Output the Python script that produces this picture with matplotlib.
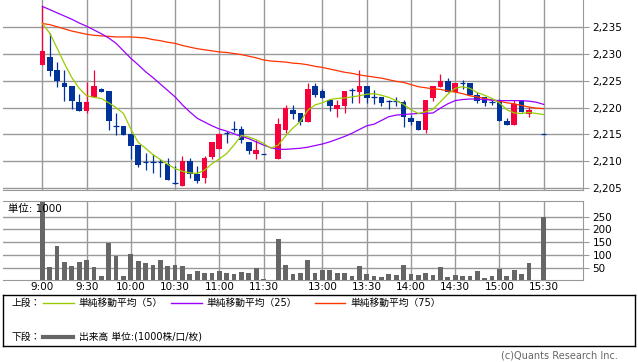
import numpy as np
import matplotlib
matplotlib.use("Agg")
from matplotlib import pyplot as plt

plt.rcParams['font.family'] = ['DejaVu Sans', 'Noto Sans CJK JP']

# 5-minute candles, 9:00 .. 15:30 (None = no trade in that slot)
opens = [2227.9, 2229.5, 2227.1, 2224.6, 2224.1, 2221.1, 2219.4, 2221.9, 2223.5, 2223.1,
         2216.5, 2216.6, 2215.0, 2213.0, 2209.9, 2209.9, 2209.9, 2209.4, 2206.0, 2205.4,
         2210.0, 2207.6, 2206.9, 2210.8, 2212.3, 2215.3, 2216.0, 2216.0, 2213.6, 2211.3,
         2211.4, None, 2210.4, 2215.8, 2219.6, 2218.9, 2217.3, 2224.1, 2223.1, 2221.4,
         2219.8, 2220.3, 2223.2, 2222.9, 2224.1, 2221.9, 2221.9, 2221.3, 2221.3, 2221.1,
         2218.1, 2217.4, 2215.8, 2221.8, 2223.9, 2224.9, 2222.9, 2224.5, 2224.6, 2222.4,
         2221.9, 2221.1, 2221.4, 2217.4, 2216.8, 2221.2, 2218.8, None, 2215.0]
highs = [2238.9, 2233.9, 2228.6, 2227.1, 2224.1, 2222.6, 2224.7, 2227.1, 2223.6, 2223.1,
         2218.9, 2216.6, 2215.0, 2213.0, 2211.6, 2211.3, 2210.4, 2210.6, 2209.0, 2211.0,
         2210.6, 2209.1, 2211.0, 2213.6, 2215.3, 2215.6, 2217.4, 2216.6, 2213.6, 2213.9,
         2211.4, None, 2218.0, 2220.5, 2220.5, 2218.9, 2224.6, 2224.6, 2223.5, 2221.4,
         2221.4, 2223.1, 2223.6, 2227.1, 2224.1, 2223.2, 2221.9, 2221.4, 2221.9, 2221.4,
         2218.6, 2217.4, 2221.4, 2224.1, 2226.2, 2225.5, 2224.6, 2225.1, 2224.6, 2222.9,
         2221.9, 2221.4, 2221.6, 2218.0, 2221.4, 2221.2, 2220.2, None, 2215.0]
lows = [2227.9, 2225.9, 2223.9, 2221.3, 2219.8, 2219.4, 2218.9, 2221.9, 2223.0, 2215.9,
        2214.9, 2214.9, 2210.4, 2208.9, 2208.4, 2207.8, 2207.0, 2206.4, 2205.7, 2205.4,
        2206.9, 2205.9, 2205.9, 2210.4, 2212.3, 2213.4, 2215.4, 2213.4, 2211.3, 2210.4,
        2211.4, None, 2210.4, 2215.3, 2217.8, 2216.8, 2217.3, 2221.9, 2221.8, 2219.4,
        2218.3, 2218.9, 2220.9, 2220.9, 2220.9, 2220.6, 2220.3, 2219.8, 2220.3, 2216.4,
        2216.8, 2215.8, 2215.3, 2221.3, 2223.9, 2222.9, 2222.9, 2223.5, 2222.4, 2220.9,
        2220.3, 2220.5, 2217.4, 2216.8, 2216.8, 2219.1, 2218.3, None, 2215.0]
closes = [2230.6, 2226.9, 2224.9, 2223.9, 2221.3, 2219.4, 2221.1, 2224.1, 2223.0, 2217.4,
          2216.5, 2214.9, 2212.9, 2209.3, 2209.9, 2209.9, 2209.9, 2206.4, 2206.0, 2210.0,
          2207.5, 2206.3, 2210.6, 2213.6, 2215.0, 2215.3, 2216.0, 2213.9, 2211.9, 2212.1,
          2211.4, None, 2216.9, 2220.0, 2218.8, 2217.3, 2223.5, 2222.4, 2221.8, 2220.3,
          2220.4, 2223.1, 2223.2, 2224.1, 2221.8, 2221.9, 2220.9, 2221.3, 2221.3, 2218.3,
          2217.3, 2215.8, 2221.4, 2224.1, 2224.9, 2222.9, 2224.6, 2224.5, 2222.4, 2221.3,
          2220.9, 2221.1, 2217.4, 2216.8, 2220.6, 2219.1, 2219.6, None, 2215.0]
volume = [310, 52, 135, 72, 56, 72, 80, 54, 18, 148,
          96, 18, 103, 76, 68, 60, 80, 56, 60, 56,
          26, 37, 29, 29, 37, 29, 25, 33, 29, 48,
          5, 0, 164, 60, 25, 29, 80, 29, 41, 41,
          29, 29, 17, 56, 25, 17, 13, 25, 21, 60,
          25, 21, 29, 21, 52, 13, 21, 17, 17, 37,
          9, 17, 45, 17, 41, 25, 68, 0, 250]

ma5 = [2235.7, 2233.9, 2231.1, 2228.2, 2225.6, 2223.6, 2222.2, 2221.9, 2221.7, 2220.9,
       2220.0, 2218.9, 2216.0, 2213.5, 2212.4, 2211.2, 2210.3, 2209.4, 2208.6, 2208.1,
       2207.8, 2207.7, 2208.3, 2209.5, 2210.4, 2211.4, 2213.0, 2214.8, 2214.5, 2214.0,
       2213.3, 2212.4, 2213.0, 2214.7, 2216.2, 2217.4, 2219.5, 2220.5, 2220.9, 2221.5,
       2221.7, 2221.8, 2222.0, 2222.2, 2222.5, 2222.6, 2222.3, 2221.9, 2221.3, 2220.6,
       2219.6, 2218.9, 2219.2, 2219.7, 2221.1, 2222.5, 2223.6, 2223.9, 2223.6, 2222.8,
       2222.3, 2221.7, 2220.9, 2219.6, 2219.0, 2218.9, 2219.1, 2218.9, 2218.7]
ma25 = [2238.9, 2238.3, 2237.7, 2237.1, 2236.5, 2235.8, 2235.2, 2234.5, 2233.8, 2233.0,
        2232.0, 2230.6, 2229.2, 2228.0, 2226.7, 2225.6, 2224.4, 2223.2, 2222.0, 2220.5,
        2219.2, 2218.0, 2217.3, 2216.6, 2216.0, 2215.6, 2215.1, 2214.6, 2214.2, 2213.6,
        2213.0, 2212.5, 2212.2, 2212.2, 2212.3, 2212.4, 2212.6, 2212.9, 2213.2, 2213.6,
        2214.1, 2214.6, 2215.2, 2215.9, 2216.6, 2216.9, 2217.6, 2218.3, 2218.6, 2218.7,
        2218.8, 2218.9, 2218.9, 2219.0, 2219.9, 2220.7, 2221.3, 2221.5, 2221.6, 2221.6,
        2221.5, 2221.4, 2221.3, 2221.3, 2221.3, 2221.3, 2221.2, 2221.0, 2220.6]
ma75 = [2235.7, 2235.5, 2235.1, 2234.7, 2234.3, 2234.0, 2233.7, 2233.5, 2233.4, 2233.3,
        2233.2, 2233.2, 2233.2, 2233.1, 2233.0, 2232.7, 2232.5, 2232.2, 2232.0, 2231.6,
        2231.3, 2231.0, 2230.8, 2230.6, 2230.4, 2230.3, 2230.1, 2229.9, 2229.6, 2229.3,
        2228.9, 2228.7, 2228.6, 2228.5, 2228.3, 2228.2, 2228.0, 2227.7, 2227.5, 2227.2,
        2226.9, 2226.6, 2226.4, 2226.1, 2225.9, 2225.7, 2225.5, 2225.2, 2224.9, 2224.7,
        2224.3, 2223.9, 2223.7, 2223.5, 2223.4, 2223.1, 2222.9, 2222.6, 2222.2, 2222.0,
        2221.7, 2221.4, 2221.2, 2220.9, 2220.7, 2220.4, 2220.1, 2219.9, 2219.8]

tick_slots = [0, 6, 12, 18, 24, 30, 38, 44, 50, 56, 62, 68]
tick_labels = ['9:00', '9:30', '10:00', '10:30', '11:00', '11:30',
               '13:00', '13:30', '14:00', '14:30', '15:00', '15:30']
price_ticks = [2205, 2210, 2215, 2220, 2225, 2230, 2235]
vol_ticks = [50, 100, 150, 200, 250]

UP = '#f7003c'
DOWN = '#003399'
GRID = '#999999'
W, H = 638, 362


def fx(px):
    return px / W


def fy(py):
    return 1 - py / H


fig = plt.figure(figsize=(6.38, 3.62), dpi=100)
left, right = fx(3.3), fx(582.7)
ax = fig.add_axes([left, fy(190), right - left, fy(0) - fy(190)])
axv = fig.add_axes([left, fy(280.3), right - left, fy(201) - fy(280.3)])

for a in (ax, axv):
    a.set_xlim(-5.3, 73.3)
    a.set_xticks(tick_slots)
    a.grid(True, color=GRID, lw=1.0)
    a.set_axisbelow(True)
    for s in a.spines.values():
        s.set_color(GRID)
    a.spines['left'].set_visible(False)
    a.yaxis.tick_right()
    a.tick_params(axis='y', length=4, color=GRID, labelsize=7.5, pad=3)
    a.tick_params(axis='x', length=0)
ax.spines['top'].set_visible(False)

# candles
for i in range(len(opens)):
    o, h, l, c = opens[i], highs[i], lows[i], closes[i]
    if o is None:
        continue
    col = UP if c > o else DOWN
    ax.vlines(i, l, h, color=col, lw=0.9, zorder=3)
    if c == o:
        ax.hlines(o, i - 0.38, i + 0.38, color=col, lw=0.9, zorder=3)
    else:
        ax.bar(i, abs(c - o), bottom=min(o, c), width=0.76, color=col, lw=0, zorder=3)

x = np.arange(len(ma5))
ax.plot(x, ma75, color='#ff3300', lw=0.9, zorder=4)
ax.plot(x, ma25, color='#9900ff', lw=0.9, zorder=4)
ax.plot(x, ma5, color='#99cc00', lw=0.9, zorder=4)

ax.set_ylim(2204.6, 2240.1)
ax.set_yticks(price_ticks)
ax.set_yticklabels([f'{p:,}' for p in price_ticks])
ax.set_xticklabels([])

axv.bar(np.arange(len(volume)), volume, width=0.64, color='#666666', zorder=3)
axv.set_ylim(0, 312)
axv.set_yticks(vol_ticks)
axv.set_xticklabels(tick_labels, fontsize=7.5)
axv.tick_params(axis='x', pad=1)
axv.text(0.008, 0.9, '単位: 1000', transform=axv.transAxes, fontsize=7.5,
         va='center', ha='left', zorder=5)

# legend box
axl = fig.add_axes([fx(3.3), fy(345.7), fx(635.3) - fx(3.3), fy(295) - fy(345.7)])
axl.set_xlim(3.3, 635.3)
axl.set_ylim(345.7, 295)
axl.set_xticks([])
axl.set_yticks([])
for s in axl.spines.values():
    s.set_color('black')
    s.set_linewidth(1.0)

r1, r2 = 303, 336.5
fs = 7
axl.text(12, r1, '上段：', fontsize=fs, va='center')
axl.plot([43, 74], [r1, r1], color='#99cc00', lw=1)
axl.text(78.5, r1, '単純移動平均（5）', fontsize=fs, va='center')
axl.plot([170.5, 201.5], [r1, r1], color='#9900ff', lw=1)
axl.text(206.5, r1, '単純移動平均（25）', fontsize=fs, va='center')
axl.plot([315, 345], [r1, r1], color='#ff3300', lw=1)
axl.text(350.5, r1, '単純移動平均（75）', fontsize=fs, va='center')
axl.text(12, r2, '下段：', fontsize=fs, va='center')
axl.plot([43, 73], [r2, r2], color='#666666', lw=3)
axl.text(79, r2, '出来高 単位:(1000株/口/枚)', fontsize=fs, va='center')

fig.text(fx(618), fy(356), '(c)Quants Research Inc.', fontsize=7, color='#666666',
         ha='right', va='center')

fig.savefig('out.png', dpi=100)
